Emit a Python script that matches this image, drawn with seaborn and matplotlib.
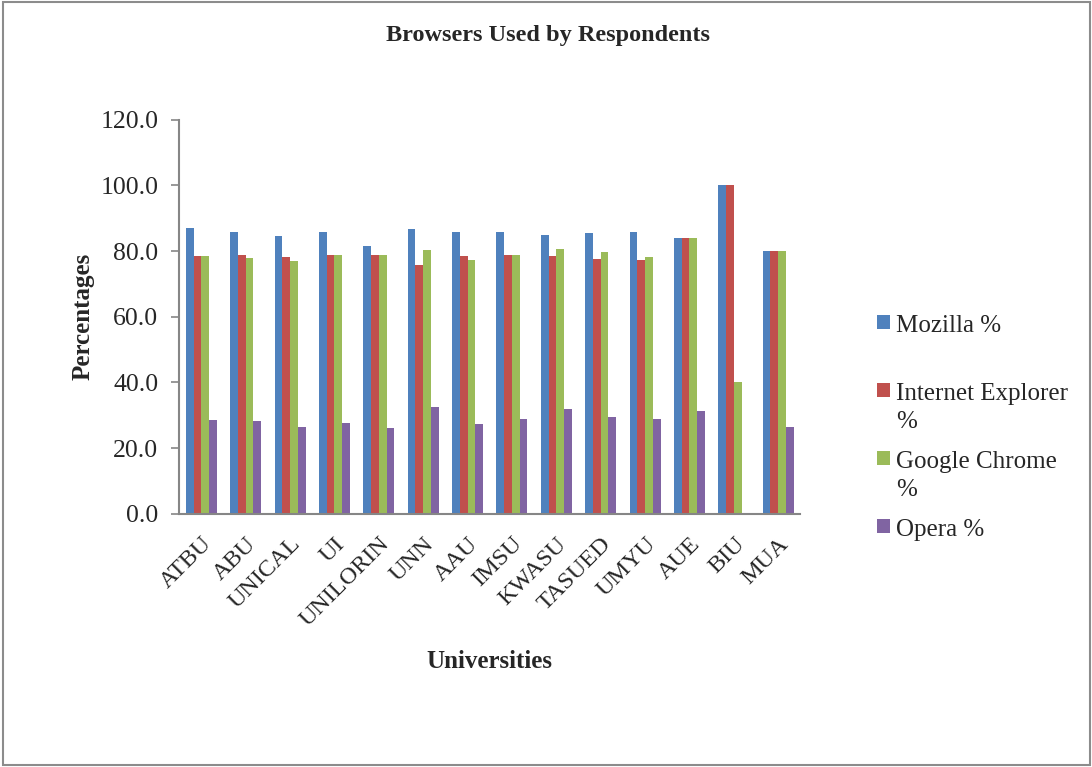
import pandas as pd
import numpy as np
import seaborn as sns
import matplotlib.pyplot as plt
from matplotlib.patches import Rectangle

sns.set_theme(style="white")
plt.rcParams['font.family'] = ['Liberation Serif', 'DejaVu Serif']

universities = ['ATBU', 'ABU', 'UNICAL', 'UI', 'UNILORIN', 'UNN', 'AAU', 'IMSU',
                'KWASU', 'TASUED', 'UMYU', 'AUE', 'BIU', 'MUA']
mozilla = [86.9, 85.7, 84.6, 85.8, 81.4, 86.8, 85.7, 85.7, 84.8, 85.4, 85.7, 84.0, 100.0, 80.0]
explorer = [78.4, 78.7, 78.3, 78.7, 78.7, 75.9, 78.6, 78.9, 78.5, 77.7, 77.4, 84.0, 100.0, 80.0]
chrome = [78.4, 77.9, 76.9, 78.7, 78.7, 80.2, 77.4, 78.9, 80.7, 79.6, 78.2, 84.0, 40.0, 80.0]
opera = [28.5, 28.2, 26.5, 27.8, 26.2, 32.4, 27.4, 29.0, 31.8, 29.6, 29.0, 31.4, 0.0, 26.5]

series = ['Mozilla %', 'Internet Explorer %', 'Google Chrome %', 'Opera %']
colors = ['#4F81BD', '#C0504D', '#9BBB59', '#8064A2']

df = pd.DataFrame({'University': universities, series[0]: mozilla, series[1]: explorer,
                   series[2]: chrome, series[3]: opera})
long = df.melt(id_vars='University', var_name='Browser', value_name='Percent')

fig = plt.figure(figsize=(10.92, 7.67), dpi=100)
ax = fig.add_axes([0.164, 0.33, 0.569, 0.514])
sns.barplot(data=long, x='University', y='Percent', hue='Browser', palette=colors,
            saturation=1, width=0.7, linewidth=0, ax=ax, legend=True)

ax.set_ylim(0, 120)
ax.set_yticks(np.arange(0, 121, 20))
ax.set_yticklabels([f'{v:.1f}' for v in np.arange(0, 121, 20)], fontsize=18.5)
ax.set_xlim(-0.5, len(universities) - 0.5)
for s in ['top', 'right']:
    ax.spines[s].set_visible(False)
for s in ['left', 'bottom']:
    ax.spines[s].set_color('#868686')
    ax.spines[s].set_linewidth(1.5)
ax.tick_params(axis='y', length=6, width=1.2, color='#868686', left=True, pad=9)
ax.tick_params(axis='x', length=0, pad=14)
plt.setp(ax.get_xticklabels(), rotation=45, ha='right', rotation_mode='anchor', fontsize=17.5)

ax.set_xlabel('Universities', fontsize=18, fontweight='bold', labelpad=14)
ax.set_ylabel('Percentages', fontsize=18, fontweight='bold', labelpad=4)
fig.text(0.502, 0.954, 'Browsers Used by Respondents', ha='center', va='center',
         fontsize=17.5, fontweight='bold')

handles, _ = ax.get_legend_handles_labels()
labels = ['Mozilla %\n', 'Internet Explorer\n%', 'Google Chrome\n%', 'Opera %\n']
ax.legend_.remove()
leg = fig.legend(handles, labels, loc='upper left', bbox_to_anchor=(0.792, 0.606),
                 frameon=False, fontsize=18, handlelength=0.5, handleheight=0.5,
                 handletextpad=0.25, labelspacing=0.72, borderpad=0)
for t in leg.get_texts():
    t.set_linespacing(1.35)
for col in leg._legend_handle_box.get_children():
    for item in col.get_children():
        item.align = 'top'

fig.patches.append(Rectangle((0.003, 0.002), 0.995, 0.996, transform=fig.transFigure,
                             fill=False, edgecolor='#8c8c8c', linewidth=1.5))

fig.savefig('out.png', dpi=100)
